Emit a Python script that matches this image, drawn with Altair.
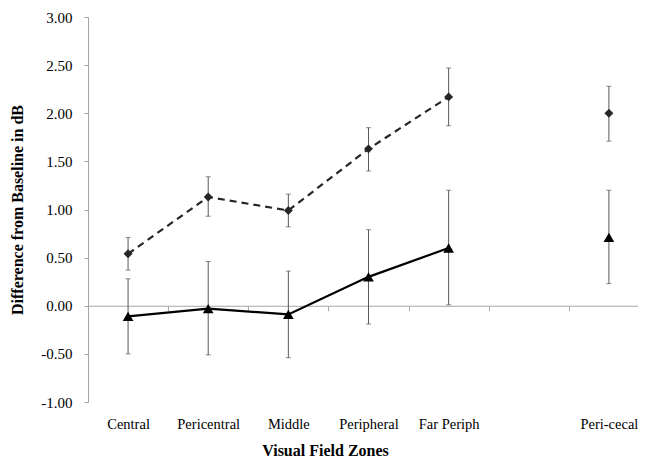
import altair as alt
import pandas as pd

# Category slots on the x axis (one empty slot before Peri-cecal)
categories = ["Central", "Pericentral", "Middle", "Peripheral", "Far Periph", "", "Peri-cecal"]
zones = ["Central", "Pericentral", "Middle", "Peripheral", "Far Periph", "Peri-cecal"]
connected = [True, True, True, True, True, False]

# Series 1 (diamonds, dashed line)
diamond_mean = [0.54, 1.13, 0.99, 1.63, 2.17, 2.00]
diamond_lo = [0.37, 0.93, 0.82, 1.40, 1.87, 1.71]
diamond_hi = [0.71, 1.34, 1.16, 1.85, 2.47, 2.28]

# Series 2 (triangles, solid line)
tri_mean = [-0.11, -0.03, -0.09, 0.30, 0.60, 0.71]
tri_lo = [-0.50, -0.51, -0.54, -0.19, 0.01, 0.23]
tri_hi = [0.28, 0.46, 0.36, 0.79, 1.20, 1.20]

y_ticks = [-1.0, -0.5, 0.0, 0.5, 1.0, 1.5, 2.0, 2.5, 3.0]
y_domain = [-1, 3]

rows = []
for i, z in enumerate(zones):
    slot = categories.index(z) + 0.5  # centre of the category slot
    rows.append(dict(zone=z, slot=slot, series="diamond", mean=diamond_mean[i],
                     lo=diamond_lo[i], hi=diamond_hi[i], connected=connected[i]))
    rows.append(dict(zone=z, slot=slot, series="triangle", mean=tri_mean[i],
                     lo=tri_lo[i], hi=tri_hi[i], connected=connected[i]))
df = pd.DataFrame(rows)

W, H = 550, 385
STEP = 80.14  # pixel width of one category slot
FONT = "Liberation Serif"
zero_offset = -H * (0 - y_domain[0]) / (y_domain[1] - y_domain[0])

xscale = alt.Scale(domain=[0, W / STEP], nice=False, zero=False)
yscale = alt.Scale(domain=y_domain, nice=False, zero=False)

label_js = "[" + ",".join("'" + c + "'" for c in categories) + "]"

y_axis = alt.Axis(
    values=y_ticks,
    labelExpr="replace(format(datum.value, '.2f'), '\u2212', '-')",
    labelFont=FONT, labelFontSize=15, labelColor="#000000", labelPadding=12,
    domainColor="#a6a6a6", tickColor="#a6a6a6", tickSize=4, grid=False,
    title="Difference from Baseline in dB", titleFont=FONT, titleFontSize=16,
    titleFontWeight="bold", titleColor="#000000", titlePadding=15,
)

zero_axis = alt.Axis(
    orient="bottom", offset=zero_offset, labels=False, title=None,
    values=list(range(len(categories) + 1)),
    domainColor="#a6a6a6", tickColor="#a6a6a6", tickSize=5, grid=False,
)

label_axis = alt.Axis(
    orient="bottom", domain=False, ticks=False, grid=False,
    values=[i + 0.5 for i in range(len(categories))],
    labelExpr=label_js + "[floor(datum.value)]",
    labelFont=FONT, labelFontSize=14.5, labelColor="#000000", labelPadding=15,
    labelAngle=0,
    title="Visual Field Zones", titleFont=FONT, titleFontSize=16,
    titleFontWeight="bold", titleColor="#000000",
    titleX=237, titleY=53, titleBaseline="alphabetic",
)

base = alt.Chart(df)

bars = base.mark_rule(color="#595959", strokeWidth=1).encode(
    x=alt.X("slot:Q", scale=xscale, axis=zero_axis),
    y=alt.Y("lo:Q", scale=yscale, axis=y_axis),
    y2="hi:Q",
)
cap_lo = base.mark_tick(color="#595959", orient="horizontal", size=5, thickness=1).encode(
    x=alt.X("slot:Q", scale=xscale, axis=None),
    y=alt.Y("lo:Q", scale=yscale, axis=y_axis),
)
cap_hi = base.mark_tick(color="#595959", orient="horizontal", size=5, thickness=1).encode(
    x=alt.X("slot:Q", scale=xscale, axis=None),
    y=alt.Y("hi:Q", scale=yscale, axis=y_axis),
)

line_d = base.transform_filter(
    (alt.datum.series == "diamond") & alt.datum.connected
).mark_line(color="#262626", strokeWidth=2.2, strokeDash=[7, 5]).encode(
    x=alt.X("slot:Q", scale=xscale, axis=None),
    y=alt.Y("mean:Q", scale=yscale, axis=y_axis),
)
line_t = base.transform_filter(
    (alt.datum.series == "triangle") & alt.datum.connected
).mark_line(color="#000000", strokeWidth=2.2).encode(
    x=alt.X("slot:Q", scale=xscale, axis=None),
    y=alt.Y("mean:Q", scale=yscale, axis=y_axis),
)

pts_d = base.transform_filter(alt.datum.series == "diamond").mark_point(
    shape="diamond", filled=True, size=80, color="#262626", opacity=1
).encode(
    x=alt.X("slot:Q", scale=xscale, axis=None),
    y=alt.Y("mean:Q", scale=yscale, axis=y_axis),
)
pts_t = base.transform_filter(alt.datum.series == "triangle").mark_point(
    shape="triangle-up", filled=True, size=115, color="#000000", opacity=1
).encode(
    x=alt.X("slot:Q", scale=xscale, axis=label_axis),
    y=alt.Y("mean:Q", scale=yscale, axis=y_axis),
)

chart = alt.layer(bars, cap_lo, cap_hi, line_d, line_t, pts_d, pts_t).resolve_axis(
    x="independent"
).properties(
    width=W, height=H,
    autosize=alt.AutoSizeParams(type="none"),
    padding={"left": 80, "top": 9, "right": 0, "bottom": 58},
    background="#ffffff",
).configure_view(strokeWidth=0)

chart.save("out.html", embed_options={"renderer": "svg", "actions": False})
